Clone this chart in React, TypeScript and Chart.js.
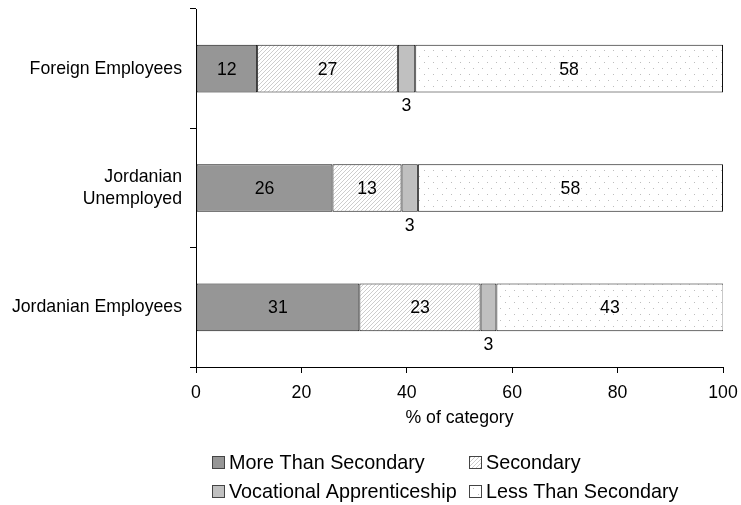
import React, { useEffect, useRef } from "react";
import { Chart, registerables } from "chart.js";

Chart.register(...registerables);

const categories: (string | string[])[] = [
  "Foreign Employees",
  ["Jordanian", "Unemployed"],
  "Jordanian Employees",
];
const seriesNames = [
  "More Than Secondary",
  "Secondary",
  "Vocational Apprenticeship",
  "Less Than Secondary",
];
const moreThanSecondary = [11.6, 25.9, 31.0];
const secondary = [26.7, 13.1, 23.0];
const vocational = [3.3, 3.1, 3.0];
const lessThanSecondary = [58.4, 57.9, 43.1];
const xTicks = [0, 20, 40, 60, 80, 100];

const FONT = "'Liberation Sans', Arial, sans-serif";
const TICK_SIZE = 17.7;

function makeHatch(): CanvasPattern | string {
  const c = document.createElement("canvas");
  c.width = 4;
  c.height = 4;
  const g = c.getContext("2d");
  if (!g) return "#ddd";
  g.fillStyle = "#ffffff";
  g.fillRect(0, 0, 4, 4);
  g.strokeStyle = "#cdcdcd";
  g.lineWidth = 1;
  g.beginPath();
  g.moveTo(-1, 5);
  g.lineTo(5, -1);
  g.moveTo(-1, 1);
  g.lineTo(1, -1);
  g.moveTo(3, 5);
  g.lineTo(5, 3);
  g.stroke();
  return g.createPattern(c, "repeat") || "#ddd";
}

function makeDots(): CanvasPattern | string {
  const c = document.createElement("canvas");
  c.width = 9;
  c.height = 12;
  const g = c.getContext("2d");
  if (!g) return "#fff";
  g.fillStyle = "#ffffff";
  g.fillRect(0, 0, 9, 12);
  g.fillStyle = "#bdbdbd";
  g.fillRect(1, 2, 1, 1);
  g.fillRect(5, 8, 1, 1);
  return g.createPattern(c, "repeat") || "#fff";
}

export default function App() {
  const ref = useRef<HTMLCanvasElement>(null);

  useEffect(() => {
    if (!ref.current) return;
    const hatch = makeHatch();
    const dots = makeDots();
    const fills: (string | CanvasPattern)[] = ["#969696", hatch, "#c0c0c0", dots];
    const values = [moreThanSecondary, secondary, vocational, lessThanSecondary];

    const labelPlugin = {
      id: "barLabels",
      afterDatasetsDraw(chart: any) {
        const ctx = chart.ctx;
        ctx.save();
        ctx.font = `${TICK_SIZE}px ${FONT}`;
        ctx.fillStyle = "#000";
        ctx.textAlign = "center";
        ctx.textBaseline = "middle";
        chart.data.datasets.forEach((ds: any, i: number) => {
          const meta = chart.getDatasetMeta(i);
          meta.data.forEach((bar: any, j: number) => {
            const p = bar.getProps(["x", "y", "base", "height"], true);
            const cx = (p.x + p.base) / 2;
            const txt = String(Math.round(ds.data[j]));
            if (i === 2) {
              ctx.fillText(txt, cx, p.y + p.height / 2 + 14);
            } else {
              ctx.fillText(txt, cx, p.y + 1);
            }
          });
        });
        ctx.restore();
      },
    };

    const legendPlugin = {
      id: "customLegend",
      afterDraw(chart: any) {
        const ctx = chart.ctx;
        const cols = [212, 469];
        const rows = [463, 492];
        ctx.save();
        ctx.font = `19.8px ${FONT}`;
        ctx.textAlign = "left";
        ctx.textBaseline = "middle";
        seriesNames.forEach((name, k) => {
          const x = cols[k % 2];
          const y = rows[Math.floor(k / 2)];
          ctx.fillStyle = fills[k];
          ctx.fillRect(x + 0.5, y - 6.5, 12, 12);
          ctx.strokeStyle = "#444";
          ctx.lineWidth = 1;
          ctx.strokeRect(x + 0.5, y - 6.5, 12, 12);
          ctx.fillStyle = "#000";
          ctx.fillText(name, x + 17, y + 1);
        });
        ctx.restore();
      },
    };

    const chart = new Chart(ref.current, {
      type: "bar",
      data: {
        labels: categories,
        datasets: values.map((v, i) => ({
          label: seriesNames[i],
          data: v,
          backgroundColor: fills[i] as any,
          borderColor: "#111",
          borderWidth: 1,
          borderSkipped: false,
          categoryPercentage: 0.4,
          barPercentage: 1,
        })),
      },
      options: {
        indexAxis: "y",
        animation: false,
        responsive: true,
        maintainAspectRatio: false,
        layout: { padding: { top: 9, right: 18, bottom: 73, left: 0 } },
        plugins: {
          legend: { display: false },
          tooltip: { enabled: false },
        },
        scales: {
          x: {
            stacked: true,
            min: 0,
            max: 100,
            afterBuildTicks(scale: any) {
              scale.ticks = xTicks.map((v) => ({ value: v }));
            },
            afterFit(scale: any) {
              scale.height = 65;
              scale.paddingLeft = 0;
              scale.paddingRight = 0;
            },
            grid: {
              drawOnChartArea: false,
              drawTicks: true,
              tickLength: 6,
              color: "#000",
            },
            border: { color: "#000", width: 1 },
            ticks: {
              padding: 9,
              color: "#000",
              font: { family: FONT, size: TICK_SIZE },
              maxRotation: 0,
            },
            title: {
              display: true,
              text: "% of category",
              color: "#000",
              font: { family: FONT, size: TICK_SIZE },
              padding: { top: 0, bottom: 3 },
            },
          },
          y: {
            stacked: true,
            afterFit(scale: any) {
              scale.width = 196;
              scale.paddingTop = 0;
              scale.paddingBottom = 0;
            },
            grid: {
              offset: true,
              drawOnChartArea: false,
              drawTicks: true,
              tickLength: 6,
              color: "#000",
            },
            border: { color: "#000", width: 1 },
            ticks: {
              padding: 8,
              color: "#000",
              font: { family: FONT, size: TICK_SIZE, lineHeight: 1.25 },
            },
          },
        },
      },
      plugins: [labelPlugin, legendPlugin],
    });
    return () => chart.destroy();
  }, []);

  return (
    <div style={{ position: "fixed", left: 0, top: 0, width: 741, height: 505, background: "#fff" }}>
      <canvas ref={ref} />
    </div>
  );
}
